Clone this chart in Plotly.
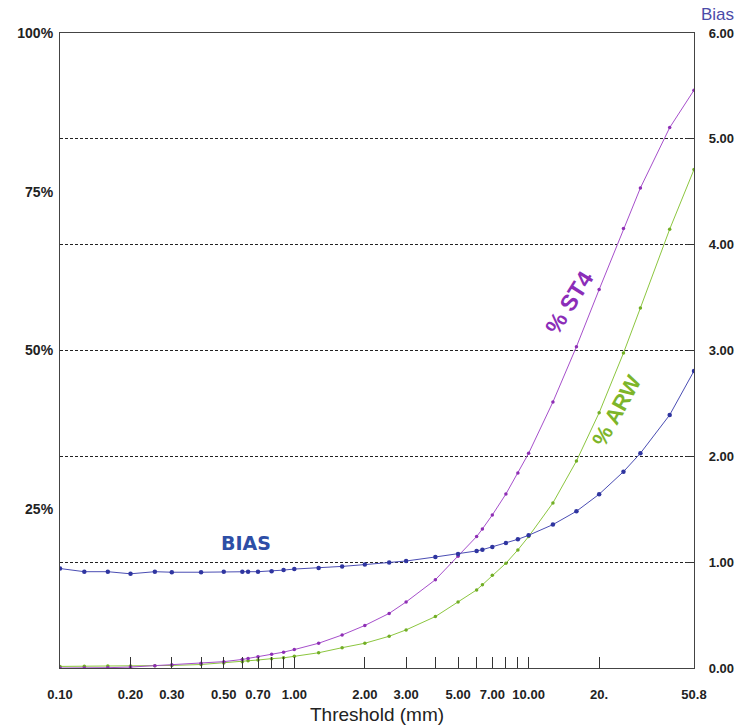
import math
import plotly.graph_objects as go

# ---- data ----
threshold_mm = [0.1, 0.127, 0.16, 0.2, 0.254, 0.3, 0.4, 0.5, 0.6, 0.635, 0.7, 0.8, 0.9, 1.0,
                1.27, 1.6, 2.0, 2.54, 3, 4, 5, 6, 6.35, 7, 8, 9, 10, 12.7, 16, 20, 25.4, 30, 40, 50.8]

pct_st4 = [0.0, 0.0, 0.05, 0.15, 0.36, 0.5, 0.75, 1.0, 1.35, 1.5, 1.78, 2.15, 2.5, 2.9,
           3.9, 5.2, 6.7, 8.6, 10.4, 13.9, 17.6, 20.7, 21.9, 24.1, 27.4, 30.7, 33.8, 41.9,
           50.6, 59.6, 69.2, 75.6, 85.1, 91.0]

pct_arw = [0.25, 0.27, 0.3, 0.3, 0.35, 0.4, 0.55, 0.8, 1.0, 1.15, 1.26, 1.47, 1.6, 1.84,
           2.4, 3.2, 3.9, 5.0, 6.0, 8.1, 10.4, 12.3, 13.1, 14.6, 16.5, 18.6, 20.7, 26.0,
           32.6, 40.2, 49.6, 56.7, 69.1, 78.5]

bias = [0.94, 0.91, 0.91, 0.89, 0.91, 0.905, 0.905, 0.91, 0.91, 0.91, 0.91, 0.915, 0.925, 0.935,
        0.945, 0.96, 0.977, 0.996, 1.011, 1.049, 1.077, 1.106, 1.118, 1.144, 1.181, 1.216, 1.254, 1.355,
        1.481, 1.642, 1.855, 2.029, 2.391, 2.807]

x_tickvals = [0.1, 0.2, 0.3, 0.4, 0.5, 0.6, 0.7, 0.8, 0.9, 1, 2, 3, 4, 5, 6, 7, 8, 9, 10, 20, 50.8]
x_ticktext = ["0.10", "0.20", "0.30", "", "0.50", "", "0.70", "", "", "1.00", "2.00", "3.00", "",
              "5.00", "", "7.00", "", "", "10.00", "20.", "50.8"]

y_tickvals = [25, 50, 75, 100]
y_ticktext = ["25%", "50%", "75%", "100%"]

y2_tickvals = [0, 1, 2, 3, 4, 5, 6]
y2_ticktext = ["0.00", "1.00", "2.00", "3.00", "4.00", "5.00", "6.00"]

# ---- styles ----
C_ST4 = "#A64FCB"
C_ST4_M = "#8E2FB5"
C_ARW = "#8CC63F"
C_ARW_M = "#72AE25"
C_BIAS = "#4A4DB3"
C_BIAS_M = "#2F35A0"
FONT = "Liberation Sans"

fig = go.Figure()

fig.add_trace(go.Scatter(x=threshold_mm, y=pct_arw, mode="lines+markers", name="% ARW",
                         line=dict(color=C_ARW, width=1),
                         marker=dict(color=C_ARW_M, size=3.5)))
fig.add_trace(go.Scatter(x=threshold_mm, y=pct_st4, mode="lines+markers", name="% ST4",
                         line=dict(color=C_ST4, width=1),
                         marker=dict(color=C_ST4_M, size=3.5)))
fig.add_trace(go.Scatter(x=threshold_mm, y=bias, mode="lines+markers", name="BIAS", yaxis="y2",
                         line=dict(color=C_BIAS, width=1),
                         marker=dict(color=C_BIAS_M, size=4.5)))

L, R, T, B = 60, 43, 33, 60
W, H = 737, 728
pw, ph = W - L - R, H - T - B


def px_to_paper(px, py):
    return (px - L) / pw, (H - B - py) / ph


annotations = []
for txt, (px, py), col, ang, fam, sz in [("BIAS", (246, 543), "#2D4EA6", 0, "DejaVu Sans", 19),
                                         ("% ST4", (569, 303), "#8B2DB8", -58, FONT, 23),
                                         ("% ARW", (616, 411), "#7DB52A", -61, FONT, 22)]:
    ax, ay = px_to_paper(px, py)
    annotations.append(dict(x=ax, y=ay, xref="paper", yref="paper", text=txt, showarrow=False,
                            textangle=ang, font=dict(family=fam, size=sz, color=col, weight="bold"),
                            xanchor="center", yanchor="middle"))
bx, by = px_to_paper(717, 14)
annotations.append(dict(x=bx, y=by, xref="paper", yref="paper", text="Bias", showarrow=False,
                        font=dict(family=FONT, size=17, color="#4B4BA8"),
                        xanchor="center", yanchor="middle"))

fig.update_layout(
    width=W, height=H,
    margin=dict(l=L, r=R, t=T, b=B),
    paper_bgcolor="white", plot_bgcolor="white",
    showlegend=False,
    annotations=annotations,
    xaxis=dict(type="log", range=[-1, math.log10(50.8)], automargin=False,
               tickvals=x_tickvals, ticktext=x_ticktext,
               ticks="inside", ticklen=11, tickcolor="#333", tickwidth=1,
               ticklabelstandoff=14,
               tickfont=dict(family=FONT, size=13, color="#222", weight="bold"),
               showgrid=False, zeroline=False,
               showline=True, linecolor="#444", linewidth=1.2, mirror=True,
               title=dict(text="Threshold (mm)", standoff=6,
                          font=dict(family=FONT, size=19, color="#222"))),
    yaxis=dict(range=[0, 100], tickvals=y_tickvals, ticktext=y_ticktext, automargin=False,
               ticks="", ticklabelstandoff=3,
               tickfont=dict(family=FONT, size=14, color="#222", weight="bold"),
               showgrid=False, zeroline=False,
               showline=True, linecolor="#444", linewidth=1.2),
    yaxis2=dict(range=[0, 6], overlaying="y", side="right", automargin=False,
                tickvals=y2_tickvals, ticktext=y2_ticktext,
                ticks="inside", ticklen=8, tickcolor="#333",
                ticklabelstandoff=11,
                tickfont=dict(family=FONT, size=13, color="#222", weight="bold"),
                showgrid=True, gridcolor="#222", gridwidth=1, griddash="3px,2px",
                zeroline=False,
                showline=True, linecolor="#444", linewidth=1.2),
)

fig.write_html("out.html")
